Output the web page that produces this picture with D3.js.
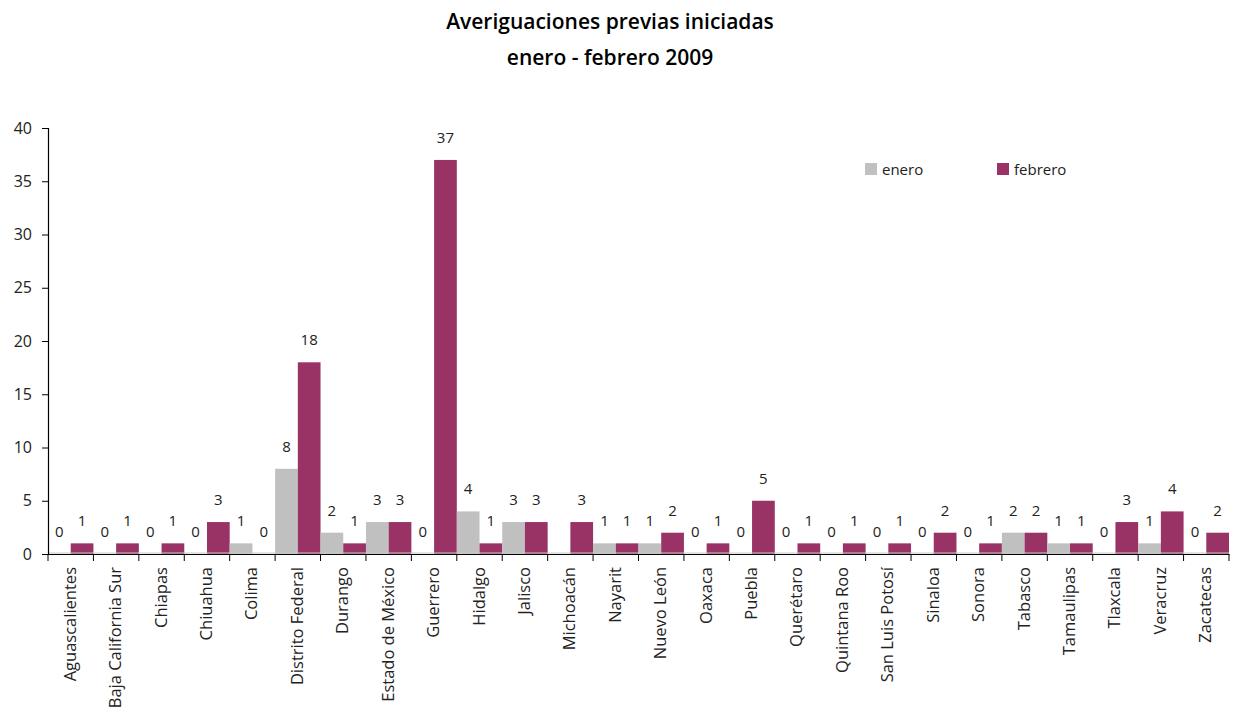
<!DOCTYPE html>
<html>
<head>
<meta charset="utf-8">
<script src="https://cdn.jsdelivr.net/npm/d3@7"></script>
<style>
  body { margin: 0; background: #ffffff; }
  #chart { width: 1233px; height: 716px; }
</style>
</head>
<body>
<div id="chart"></div>
<script>
var categories = ["Aguascalientes", "Baja California Sur", "Chiapas", "Chiuahua", "Colima",
  "Distrito Federal", "Durango", "Estado de México", "Guerrero", "Hidalgo", "Jalisco",
  "Michoacán", "Nayarit", "Nuevo León", "Oaxaca", "Puebla", "Querétaro", "Quintana Roo",
  "San Luis Potosí", "Sinaloa", "Sonora", "Tabasco", "Tamaulipas", "Tlaxcala", "Veracruz", "Zacatecas"];
// null = no value shown in the source
var enero =   [0, 0, 0, 0, 1, 8, 2, 3, 0, 4, 3, null, 1, 1, 0, 0, 0, 0, 0, 0, 0, 2, 1, 0, 1, 0];
var febrero = [1, 1, 1, 3, 0, 18, 1, 3, 37, 1, 3, 3, 1, 2, 1, 5, 1, 1, 1, 2, 1, 2, 1, 3, 4, 2];
var series = ["enero", "febrero"];
var yTicks = [0, 5, 10, 15, 20, 25, 30, 35, 40];
var titleLines = ["Averiguaciones previas iniciadas", "enero - febrero 2009"];

var width = 1233, height = 716;
var margin = { top: 128, right: 4, bottom: 162, left: 48 };
var font = "'Open Sans', 'DejaVu Sans', sans-serif";
var colors = { enero: "#c0c0c0", febrero: "#993366" };

var svg = d3.select("#chart")
  .append("svg")
  .attr("width", width)
  .attr("height", height)
  .style("font-family", font);

var data = categories.map(function(c, i) {
  return { category: c, enero: enero[i], febrero: febrero[i] };
});

var xscale = d3.scaleBand()
  .domain(categories)
  .range([margin.left, width - margin.right]);

var xsub = d3.scaleBand()
  .domain(series)
  .range([0, xscale.bandwidth()]);

var yscale = d3.scaleLinear()
  .domain([0, 40])
  .range([height - margin.bottom, margin.top]);

// title
svg.append("g")
  .selectAll("text")
  .data(titleLines)
  .enter()
  .append("text")
  .attr("x", 610)
  .attr("y", function(d, i) { return 29 + i * 36; })
  .attr("text-anchor", "middle")
  .attr("font-size", 21)
  .attr("font-weight", 600)
  .attr("fill", "#000")
  .text(function(d) { return d; });

// bars
var groups = svg.append("g")
  .selectAll("g")
  .data(data)
  .enter()
  .append("g")
  .attr("transform", function(d) { return "translate(" + xscale(d.category) + ",0)"; });

groups.selectAll("rect")
  .data(function(d) { return series.map(function(s) { return { key: s, value: d[s] }; }); })
  .enter()
  .append("rect")
  .attr("x", function(d) { return xsub(d.key); })
  .attr("width", xsub.bandwidth())
  .attr("y", function(d) { return yscale(d.value || 0); })
  .attr("height", function(d) { return yscale(0) - yscale(d.value || 0); })
  .attr("fill", function(d) { return colors[d.key]; });

groups.selectAll("text")
  .data(function(d) { return series.map(function(s) { return { key: s, value: d[s] }; }); })
  .enter()
  .filter(function(d) { return d.value !== null; })
  .append("text")
  .attr("x", function(d) { return xsub(d.key) + xsub.bandwidth() / 2; })
  .attr("y", function(d) { return yscale(d.value) - 17; })
  .attr("text-anchor", "middle")
  .attr("font-size", 15)
  .attr("fill", "#222")
  .text(function(d) { return d.value; });

// thin grey baseline under the zero bars
svg.append("line")
  .attr("x1", margin.left)
  .attr("x2", width - margin.right)
  .attr("y1", yscale(0) - 1)
  .attr("y2", yscale(0) - 1)
  .attr("stroke", "#c8c8c8")
  .attr("stroke-width", 1);

// y axis
var yAxis = d3.axisLeft(yscale).tickValues(yTicks).tickSize(6).tickPadding(10);
var gy = svg.append("g")
  .attr("transform", "translate(" + margin.left + ",0)")
  .call(yAxis);
gy.select(".domain").attr("stroke", "#000").attr("stroke-width", 1.2);
gy.selectAll(".tick line").attr("stroke", "#000");
gy.selectAll(".tick text")
  .attr("font-size", 16)
  .attr("font-family", font)
  .attr("fill", "#222");

// x axis: ticks at category boundaries
var xAxis = d3.axisBottom(xscale).tickSize(0).tickPadding(0).tickFormat("");
var gx = svg.append("g")
  .attr("transform", "translate(0," + yscale(0) + ")")
  .call(xAxis);
gx.select(".domain").attr("stroke", "#000").attr("stroke-width", 1.2);

gx.selectAll(".sep")
  .data(categories.concat([null]))
  .enter()
  .append("line")
  .attr("class", "sep")
  .attr("x1", function(d, i) { return margin.left + i * xscale.step(); })
  .attr("x2", function(d, i) { return margin.left + i * xscale.step(); })
  .attr("y1", 0)
  .attr("y2", 7)
  .attr("stroke", "#000");

svg.append("g")
  .selectAll("text")
  .data(categories)
  .enter()
  .append("text")
  .attr("transform", function(d) {
    return "translate(" + (xscale(d) + xscale.bandwidth() / 2 + 5) + "," + (yscale(0) + 13) + ") rotate(-90)";
  })
  .attr("text-anchor", "end")
  .attr("font-size", 16.5)
  .attr("fill", "#222")
  .text(function(d) { return d; });

// legend
var legend = svg.append("g")
  .selectAll("g")
  .data(series)
  .enter()
  .append("g")
  .attr("transform", function(d, i) { return "translate(" + (865 + i * 132) + ",163)"; });

legend.append("rect")
  .attr("width", 12)
  .attr("height", 12)
  .attr("fill", function(d) { return colors[d]; });

legend.append("text")
  .attr("x", 17)
  .attr("y", 12)
  .attr("font-size", 15)
  .attr("fill", "#222")
  .text(function(d) { return d; });
</script>
</body>
</html>
